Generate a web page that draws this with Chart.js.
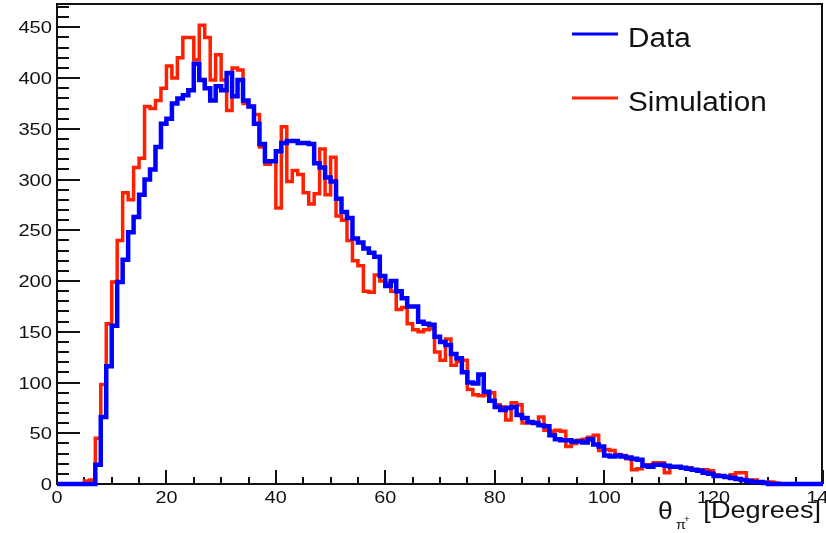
<!DOCTYPE html>
<html>
<head>
<meta charset="utf-8">
<title>Pion angle distribution</title>
<script src="https://cdn.jsdelivr.net/npm/chart.js@4/dist/chart.umd.min.js"></script>
<style>
  html, body { margin: 0; padding: 0; background: #ffffff; }
  canvas { display: block; }
</style>
</head>
<body>
<canvas id="c" width="826" height="533"></canvas>
<script>
// Histogram range: 140 bins of 1 degree each
const xMin = 0;
const xMax = 140;
const yMax = 473;
const binWidth = 1;

// Axis tick labels
const xTickLabels = [0, 20, 40, 60, 80, 100, 120, 140];
const yTickLabels = [0, 50, 100, 150, 200, 250, 300, 350, 400, 450];

// Series names
const seriesNames = ['Data', 'Simulation'];

// Measured counts per bin (bin i covers [i, i+1) degrees)
const dataCounts = [
  0, 0, 0, 0, 0, 0, 0, 19, 66, 116,
  156, 199, 221, 248, 263, 285, 300, 310, 332, 355,
  360, 375, 380, 383, 388, 414, 398, 390, 378, 392,
  388, 405, 382, 398, 378, 372, 355, 335, 318, 318,
  328, 336, 338, 338, 336, 336, 335, 316, 312, 302,
  298, 281, 268, 262, 242, 238, 232, 228, 224, 205,
  195, 200, 190, 183, 175, 175, 160, 158, 157, 145,
  140, 137, 128, 124, 110, 100, 99, 108, 91, 82,
  76, 73, 75, 76, 68, 65, 61, 60, 58, 57,
  48, 44, 43, 43, 42, 42, 41, 44, 39, 37,
  28, 27, 28, 27, 26, 25, 24, 18, 17, 19,
  19, 18, 17, 17, 16, 15, 14, 13, 11, 10,
  8, 8, 7, 6, 5, 4, 3, 2, 2, 1,
  0, 0, 0, 0, 0, 0, 0, 0, 0, 0
];

// Simulated counts per bin
const simCounts = [
  0, 0, 0, 0, 0, 3, 4, 45, 98, 158,
  199, 240, 287, 280, 312, 321, 372, 370, 378, 390,
  412, 400, 420, 440, 440, 418, 452, 440, 398, 423,
  398, 368, 410, 408, 375, 372, 364, 332, 315, 318,
  272, 352, 298, 309, 305, 287, 276, 286, 330, 285,
  322, 264, 260, 240, 220, 215, 190, 189, 206, 200,
  198, 190, 172, 174, 158, 152, 150, 152, 153, 130,
  122, 143, 117, 121, 122, 93, 88, 87, 88, 90,
  78, 76, 63, 80, 78, 60, 60, 60, 66, 53,
  52, 53, 52, 37, 40, 43, 44, 46, 48, 33,
  34, 33, 29, 28, 25, 14, 15, 19, 19, 21,
  21, 11, 17, 17, 16, 16, 14, 14, 14, 13,
  9, 8, 7, 9, 11, 11, 4, 4, 2, 2,
  2, 1, 0, 0, 0, 0, 0, 0, 0, 0
];

const dataColor = '#0000ff';
const simColor = '#ff2000';
const inkColor = '#111111';
const fontFamily = '"Liberation Sans", Arial, Helvetica, sans-serif';

// Turn per-bin counts into step points: one point per lower bin edge,
// plus a closing point at the upper edge of the last bin.
function histPoints(counts) {
  const pts = counts.map((c, i) => ({ x: xMin + i * binWidth, y: c }));
  pts.push({ x: xMin + counts.length * binWidth, y: counts[counts.length - 1] });
  return pts;
}

// Text with a slight horizontal stretch, like the original typesetting
function stretchText(ctx, str, x, y, size, sx, align) {
  ctx.save();
  ctx.font = size + 'px ' + fontFamily;
  ctx.textAlign = 'left';
  ctx.textBaseline = 'alphabetic';
  const w = ctx.measureText(str).width * sx;
  let x0 = x;
  if (align === 'right') x0 = x - w;
  else if (align === 'center') x0 = x - w / 2;
  ctx.translate(x0, y);
  ctx.scale(sx, 1);
  ctx.fillText(str, 0, 0);
  ctx.restore();
  return w;
}

// Frame, inward ticks, labels, legend and axis title in the ROOT style
const rootStyle = {
  id: 'rootStyle',
  beforeDatasetsDraw(chart) {
    const ctx = chart.ctx;
    const a = chart.chartArea;
    const xs = chart.scales.x;
    const ys = chart.scales.y;
    ctx.save();
    ctx.strokeStyle = inkColor;
    ctx.lineCap = 'butt';

    // frame box
    ctx.lineWidth = 2;
    ctx.beginPath();
    ctx.moveTo(a.left, a.top);
    ctx.lineTo(a.right - 1, a.top);
    ctx.lineTo(a.right - 1, a.bottom);
    ctx.stroke();
    ctx.beginPath();
    ctx.moveTo(a.left, a.top - 1);
    ctx.lineTo(a.left, a.bottom);
    ctx.lineTo(a.right, a.bottom);
    ctx.stroke();

    // y ticks: major every 50, minor every 10
    ctx.lineWidth = 2;
    for (let v = 0; v <= yMax; v += 10) {
      const py = Math.round(ys.getPixelForValue(v));
      const major = v % 50 === 0;
      const len = major ? 23 : 12;
      ctx.beginPath();
      ctx.moveTo(a.left, py);
      ctx.lineTo(a.left + len, py);
      ctx.stroke();
    }
    // x ticks: major every 20, minor every 5
    for (let v = xMin; v <= xMax; v += 5) {
      const px = Math.round(xs.getPixelForValue(v));
      const major = v % 20 === 0;
      const len = major ? 14 : 7;
      ctx.beginPath();
      ctx.moveTo(px, a.bottom);
      ctx.lineTo(px, a.bottom - len);
      ctx.stroke();
    }
    ctx.restore();
  },
  afterDraw(chart) {
    const ctx = chart.ctx;
    const a = chart.chartArea;
    const xs = chart.scales.x;
    const ys = chart.scales.y;
    ctx.save();
    ctx.fillStyle = inkColor;

    // tick labels
    yTickLabels.forEach(v => {
      const py = ys.getPixelForValue(v);
      stretchText(ctx, String(v), a.left - 5, py + 6, 16.5, 1.22, 'right');
    });
    xTickLabels.forEach(v => {
      const px = xs.getPixelForValue(v);
      stretchText(ctx, String(v), px, a.bottom + 19, 16.5, 1.2, 'center');
    });

    // axis title: theta with pion subscript
    stretchText(ctx, '\u03B8', 658, 519, 23, 1.15, 'left');
    stretchText(ctx, '\u03C0', 676, 529, 13, 1.1, 'left');
    stretchText(ctx, '+', 684, 522, 9, 1.1, 'left');
    stretchText(ctx, '[Degrees]', a.right - 2, 518, 23, 1.18, 'right');

    // legend
    const entries = [
      { label: seriesNames[0], color: dataColor, y: 34 },
      { label: seriesNames[1], color: simColor, y: 98 }
    ];
    entries.forEach(e => {
      ctx.strokeStyle = e.color;
      ctx.lineWidth = 3;
      ctx.beginPath();
      ctx.moveTo(572, e.y);
      ctx.lineTo(618, e.y);
      ctx.stroke();
      ctx.fillStyle = inkColor;
      stretchText(ctx, e.label, 628, e.y + 13, 27, 1.1, 'left');
    });
    ctx.restore();
  }
};

new Chart(document.getElementById('c'), {
  type: 'line',
  data: {
    datasets: [
      {
        label: seriesNames[0],
        data: histPoints(dataCounts),
        borderColor: dataColor,
        borderWidth: 4.5,
        stepped: 'before',
        pointRadius: 0,
        fill: false,
        clip: 6,
        borderJoinStyle: 'miter'
      },
      {
        label: seriesNames[1],
        data: histPoints(simCounts),
        borderColor: simColor,
        borderWidth: 3.5,
        stepped: 'before',
        pointRadius: 0,
        fill: false,
        clip: 6,
        borderJoinStyle: 'miter'
      }
    ]
  },
  options: {
    responsive: false,
    animation: false,
    devicePixelRatio: 1,
    layout: { padding: { left: 57, right: 3, top: 4, bottom: 49 } },
    plugins: { legend: { display: false }, tooltip: { enabled: false } },
    scales: {
      x: { type: 'linear', min: xMin, max: xMax, display: false },
      y: { type: 'linear', min: 0, max: yMax, display: false }
    }
  },
  plugins: [rootStyle]
});
</script>
</body>
</html>
